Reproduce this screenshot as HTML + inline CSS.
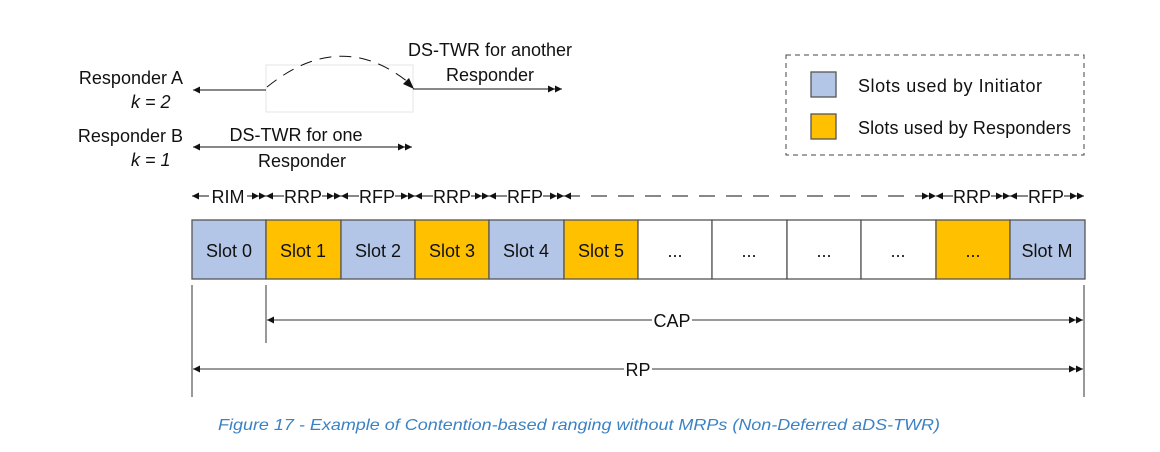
<!DOCTYPE html>
<html><head><meta charset="utf-8"><style>
html,body{margin:0;padding:0;background:#fff;}
svg{display:block;font-family:"Liberation Sans",sans-serif;}
.t{font-size:18px;fill:#111;}
</style></head><body>
<svg width="1160" height="452" viewBox="0 0 1160 452" xmlns="http://www.w3.org/2000/svg">
<defs>
<marker id="s" markerUnits="userSpaceOnUse" markerWidth="10" markerHeight="10" refX="0" refY="4" orient="auto">
<path d="M7,0.5 L0,4 L7,7.5 Z" fill="#111"/></marker>
<marker id="d" markerUnits="userSpaceOnUse" markerWidth="16" markerHeight="10" refX="14" refY="4" orient="auto">
<path d="M0,0.5 L7,4 L0,7.5 Z M7,0.5 L14,4 L7,7.5 Z" fill="#111"/></marker>
</defs>
<g stroke="#555" stroke-width="1" fill="none">
<rect x="266" y="65" width="147" height="47" stroke="#e4e4e4"/>
<line x1="193" y1="90" x2="266" y2="90" stroke="#111" marker-start="url(#s)"/>
<path d="M267,87 Q340,28 408,82" stroke="#111" stroke-dasharray="12,8"/>
<line x1="413" y1="89" x2="562" y2="89" stroke="#111" marker-end="url(#d)"/>
<line x1="193" y1="147" x2="412" y2="147" stroke="#111" marker-start="url(#s)" marker-end="url(#d)"/>
<g stroke="#111">
<line x1="192" y1="196" x2="266" y2="196" marker-start="url(#s)" marker-end="url(#d)"/>
<line x1="266" y1="196" x2="341" y2="196" marker-start="url(#s)" marker-end="url(#d)"/>
<line x1="341" y1="196" x2="415" y2="196" marker-start="url(#s)" marker-end="url(#d)"/>
<line x1="415" y1="196" x2="489" y2="196" marker-start="url(#s)" marker-end="url(#d)"/>
<line x1="489" y1="196" x2="564" y2="196" marker-start="url(#s)" marker-end="url(#d)"/>
<line x1="564" y1="196" x2="936" y2="196" stroke-dasharray="16,11" marker-start="url(#s)" marker-end="url(#d)"/>
<line x1="936" y1="196" x2="1010" y2="196" marker-start="url(#s)" marker-end="url(#d)"/>
<line x1="1010" y1="196" x2="1084" y2="196" marker-start="url(#s)" marker-end="url(#d)"/>
</g>
<g stroke="#555" stroke-width="1.3">
<rect x="192" y="220" width="74" height="59" fill="#b4c6e7"/>
<rect x="266" y="220" width="75" height="59" fill="#ffc000"/>
<rect x="341" y="220" width="74" height="59" fill="#b4c6e7"/>
<rect x="415" y="220" width="74" height="59" fill="#ffc000"/>
<rect x="489" y="220" width="75" height="59" fill="#b4c6e7"/>
<rect x="564" y="220" width="74" height="59" fill="#ffc000"/>
<rect x="638" y="220" width="74" height="59" fill="#fff"/>
<rect x="712" y="220" width="75" height="59" fill="#fff"/>
<rect x="787" y="220" width="74" height="59" fill="#fff"/>
<rect x="861" y="220" width="75" height="59" fill="#fff"/>
<rect x="936" y="220" width="74" height="59" fill="#ffc000"/>
<rect x="1010" y="220" width="75" height="59" fill="#b4c6e7"/>
</g>
<line x1="266" y1="285" x2="266" y2="343" stroke="#333"/>
<line x1="192" y1="285" x2="192" y2="397" stroke="#333"/>
<line x1="1084" y1="285" x2="1084" y2="397" stroke="#333"/>
<line x1="267" y1="320" x2="1083" y2="320" stroke="#333" marker-start="url(#s)" marker-end="url(#d)"/>
<line x1="193" y1="369" x2="1083" y2="369" stroke="#333" marker-start="url(#s)" marker-end="url(#d)"/>
<rect x="786" y="55" width="298" height="100" stroke="#444" stroke-dasharray="5,4"/>
<rect x="811" y="72" width="25" height="25" fill="#b4c6e7" stroke="#555" stroke-width="1.3"/>
<rect x="811" y="114" width="25" height="25" fill="#ffc000" stroke="#555" stroke-width="1.3"/>
</g>
<path d="M414,89 L403,84 L409,78 Z" fill="#111"/>
<g class="t">
<text x="858" y="92" textLength="184">Slots used by Initiator</text>
<text x="858" y="134" textLength="213">Slots used by Responders</text>
<text x="183" y="84" text-anchor="end">Responder A</text>
<text x="131" y="108" font-style="italic">k = 2</text>
<text x="183" y="142" text-anchor="end">Responder B</text>
<text x="131" y="166" font-style="italic">k = 1</text>
<text x="490" y="56" text-anchor="middle">DS-TWR for another</text>
<text x="490" y="81" text-anchor="middle">Responder</text>
<rect x="231" y="124" width="98" height="20" fill="#fff"/>
<text x="296" y="141" text-anchor="middle">DS-TWR for one</text>
<text x="302" y="167" text-anchor="middle">Responder</text>
</g>
<g class="t" text-anchor="middle">
<rect x="209" y="186" width="38" height="22" fill="#fff"/><text x="228" y="203">RIM</text>
<rect x="284" y="186" width="38" height="22" fill="#fff"/><text x="303" y="203">RRP</text>
<rect x="359" y="186" width="36" height="22" fill="#fff"/><text x="377" y="203">RFP</text>
<rect x="433" y="186" width="38" height="22" fill="#fff"/><text x="452" y="203">RRP</text>
<rect x="507" y="186" width="36" height="22" fill="#fff"/><text x="525" y="203">RFP</text>
<rect x="953" y="186" width="38" height="22" fill="#fff"/><text x="972" y="203">RRP</text>
<rect x="1028" y="186" width="36" height="22" fill="#fff"/><text x="1046" y="203">RFP</text>
<text x="229" y="257">Slot 0</text>
<text x="303" y="257">Slot 1</text>
<text x="378" y="257">Slot 2</text>
<text x="452" y="257">Slot 3</text>
<text x="526" y="257">Slot 4</text>
<text x="601" y="257">Slot 5</text>
<text x="675" y="257">...</text>
<text x="749" y="257">...</text>
<text x="824" y="257">...</text>
<text x="898" y="257">...</text>
<text x="973" y="257">...</text>
<text x="1047" y="257">Slot M</text>
<rect x="652" y="309" width="40" height="22" fill="#fff"/><text x="672" y="327">CAP</text>
<rect x="624" y="358" width="28" height="22" fill="#fff"/><text x="638" y="376">RP</text>
</g>
<text x="218" y="430" font-size="16" font-style="italic" fill="#3b82c4" textLength="722" lengthAdjust="spacingAndGlyphs">Figure 17 - Example of Contention-based ranging without MRPs (Non-Deferred aDS-TWR)</text>
</svg>
</body></html>
